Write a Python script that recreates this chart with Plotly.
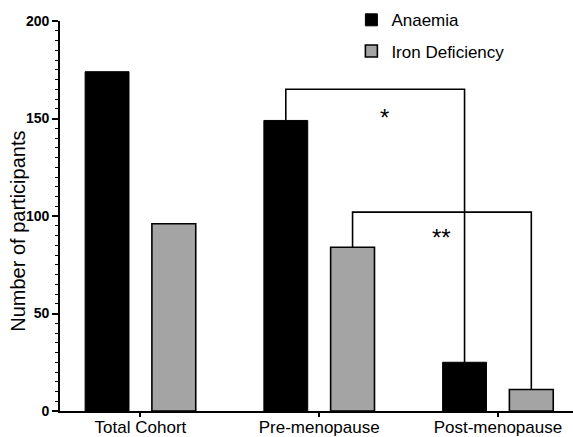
import plotly.graph_objects as go

categories = ["Total Cohort", "Pre-menopause", "Post-menopause"]
anaemia = [174, 149, 25]
iron_deficiency = [96, 84, 11]
y_ticks = [0, 50, 100, 150, 200]

# significance brackets: (series, from category idx, to category idx, bracket height, label)
brackets = [
    ("anaemia", 1, 2, 165, "*"),
    ("iron", 1, 2, 102, "**"),
]

bargap = 0.253
bargroupgap = 0.343
offset = (1 - bargap) / 4

FONT = "Liberation Sans, Arial, sans-serif"

fig = go.Figure()
fig.add_trace(go.Bar(
    x=categories, y=anaemia, name="Anaemia",
    marker=dict(color="black", line=dict(color="black", width=1)),
    legendgroup="a",
))
fig.add_trace(go.Bar(
    x=categories, y=iron_deficiency, name="Iron Deficiency",
    marker=dict(color="#a4a4a4", line=dict(color="black", width=1.6)),
    legendgroup="b",
))

series = {"anaemia": (anaemia, -offset), "iron": (iron_deficiency, offset)}
for key, i0, i1, h, label in brackets:
    vals, off = series[key]
    x0 = i0 + off
    x1 = i1 + off
    fig.add_shape(type="path",
                  path=f"M {x0} {vals[i0]} L {x0} {h} L {x1} {h} L {x1} {vals[i1]}",
                  xref="x", yref="y", line=dict(color="black", width=1.6))
    xm = (x0 + x1) / 2 + (0.05 if label == "*" else 0)
    fig.add_annotation(x=xm, y=h, text=label, showarrow=False,
                       xref="x", yref="y", yanchor="top",
                       yshift=-13 if label == "*" else -10,
                       font=dict(size=24, color="black", family=FONT))

# y-axis title as rotated annotation (offset below centre as in the original)
fig.add_annotation(text="Number of participants", textangle=-90, showarrow=False,
                   xref="paper", yref="paper", x=-0.082, y=0.462,
                   xanchor="center", yanchor="middle",
                   font=dict(size=20, family=FONT, color="black"))

fig.update_layout(
    width=573, height=437,
    margin=dict(l=60, r=0, t=21, b=26, autoexpand=False),
    plot_bgcolor="white", paper_bgcolor="white",
    barmode="group", bargap=bargap, bargroupgap=bargroupgap,
    font=dict(family=FONT, color="black", size=17),
    showlegend=True,
    legend=dict(x=0.568, y=1.048, xanchor="left", yanchor="top",
                font=dict(size=17, family=FONT, color="black"),
                tracegroupgap=6, traceorder="grouped",
                bgcolor="rgba(0,0,0,0)"),
)
fig.update_xaxes(
    range=[-0.45, 2.42], showline=True, linecolor="black", linewidth=1.6,
    ticks="outside", ticklen=4, tickwidth=1.6, tickcolor="black",
    ticklabelstandoff=-4,
    showgrid=False, tickfont=dict(size=17, family=FONT, color="black"),
)
fig.update_yaxes(
    range=[0, 200], tickvals=y_ticks, showline=True, linecolor="black", linewidth=1.6,
    ticks="outside", ticklen=6, tickwidth=1.6, tickcolor="black",
    minor=dict(dtick=5, ticks="outside", ticklen=3, tickwidth=1.2, tickcolor="black", showgrid=False),
    showgrid=False, zeroline=False,
    tickfont=dict(size=14, family=FONT, color="black", weight="bold"),
)

fig.write_html("out.html", config={"displayModeBar": False},
               post_script="document.body.style.margin='0';document.body.style.overflow='hidden';")
